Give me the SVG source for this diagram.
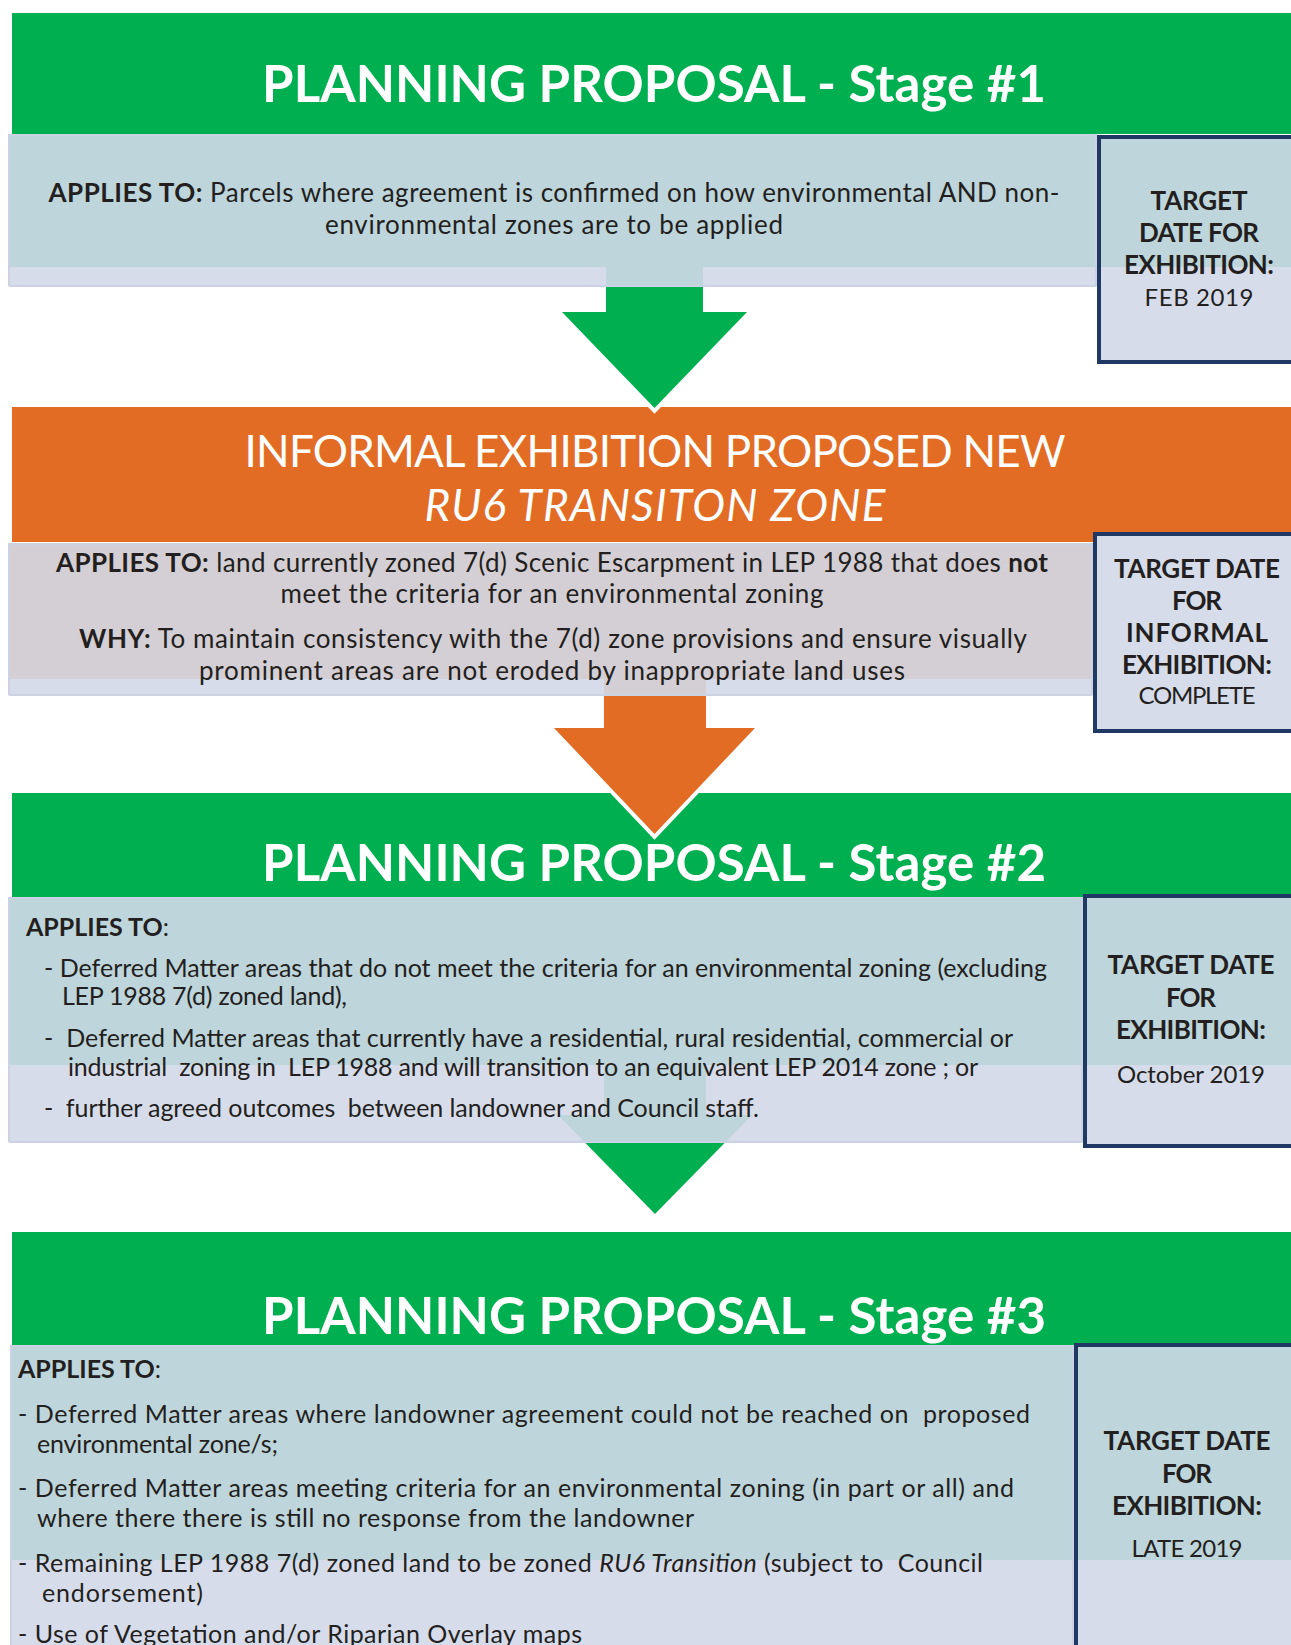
<svg xmlns="http://www.w3.org/2000/svg" width="1291" height="1645" viewBox="0 0 1291 1645">
<style>
text{font-family:Lato,"Open Sans","Liberation Sans",sans-serif;fill:#231f20}
.title{font-size:51px;font-weight:bold;fill:#fff;text-anchor:middle}
.otitle{font-size:44px;fill:#fff;text-anchor:middle}
.body{font-size:25px}
.big{font-size:26px}
.c{text-anchor:middle}
.bold{font-weight:bold}
.date{font-size:26px;font-weight:bold;text-anchor:middle}
.dval{font-size:24px;text-anchor:middle}
.green{fill:#00b050}
.orange{fill:#e36c25}
.lav{fill:#d6dce9}
.teal{fill:#bdd5db}
.gp{fill:#d4cfd4}
.boxedge{fill:none;stroke:#cbd3e2;stroke-width:2}
.frame{fill:none;stroke:#1f3864;stroke-width:4}
.halo{fill:none;stroke:#fff;stroke-width:8;stroke-linejoin:miter}
</style>

<g id="stage1">
<rect class="green" x="12" y="13" width="1290" height="121"/>
<text class="title" x="654" y="102" textLength="784">PLANNING PROPOSAL - Stage #1</text>
<rect class="lav" x="8" y="134" width="1089" height="153" rx="2"/>
<rect class="teal" x="8" y="134" width="1089" height="133"/>
<rect class="teal" x="606" y="267" width="97" height="20"/>
<rect class="boxedge" x="9" y="135" width="1087" height="151" rx="2"/>
<text class="body big c" x="554" y="202" textLength="1011"><tspan class="bold">APPLIES TO:</tspan> Parcels where agreement is confirmed on how environmental AND non-</text>
<text class="body big c" x="554" y="234" textLength="458">environmental zones are to be applied</text>
</g>

<g id="date1">
<rect class="lav" x="1099" y="137" width="200" height="225"/>
<rect class="teal" x="1101" y="139" width="196" height="128"/>
<rect class="frame" x="1099" y="137" width="220" height="225"/>
<text class="date" x="1199" y="210" textLength="97">TARGET</text>
<text class="date" x="1199" y="242" textLength="120">DATE FOR</text>
<text class="date" x="1199" y="274" textLength="150">EXHIBITION:</text>
<text class="dval" x="1199" y="306" textLength="109">FEB 2019</text>
</g>

<g id="informal">
<rect class="orange" x="12" y="407" width="1290" height="135"/>
<text class="otitle" x="655" y="467" textLength="821">INFORMAL EXHIBITION PROPOSED NEW</text>
<text class="otitle" x="655" y="521" font-style="italic" textLength="461">RU6 TRANSITON ZONE</text>
<rect class="lav" x="8" y="543" width="1085" height="153" rx="2"/>
<rect class="gp" x="8" y="543" width="1085" height="136"/>
<rect class="gp" x="604" y="679" width="102" height="17"/>
<rect class="boxedge" x="9" y="544" width="1083" height="151" rx="2"/>
<text class="body big c" x="552" y="572" textLength="992"><tspan class="bold">APPLIES TO:</tspan> land currently zoned 7(d) Scenic Escarpment in LEP 1988 that does <tspan class="bold">not</tspan></text>
<text class="body big c" x="552" y="603" textLength="543">meet the criteria for an environmental zoning</text>
<text class="body big c" x="553" y="648" textLength="948"><tspan class="bold">WHY:</tspan> To maintain consistency with the 7(d) zone provisions and ensure visually</text>
<text class="body big c" x="552" y="680" textLength="706">prominent areas are not eroded by inappropriate land uses</text>
</g>

<g id="date2">
<rect class="lav" x="1095" y="534" width="220" height="197"/>
<rect class="frame" x="1095" y="534" width="220" height="197"/>
<text class="date" x="1197" y="578" textLength="166">TARGET DATE</text>
<text class="date" x="1197" y="610" textLength="50">FOR</text>
<text class="date" x="1197" y="642" textLength="142">INFORMAL</text>
<text class="date" x="1197" y="674" textLength="150">EXHIBITION:</text>
<text class="dval" x="1197" y="704" textLength="117">COMPLETE</text>
</g>

<g id="stage2">
<rect class="green" x="12" y="793" width="1290" height="104"/>
<text class="title" x="654" y="881" textLength="784">PLANNING PROPOSAL - Stage #2</text>
<rect class="lav" x="8" y="897" width="1075" height="246" rx="2"/>
<rect class="teal" x="8" y="897" width="1075" height="168"/>
<polygon class="teal" points="604,1065 706,1065 706,1115 752,1115 724.6,1143 585.4,1143 558,1115 604,1115"/>
<rect class="boxedge" x="9" y="898" width="1073" height="244" rx="2"/>
<text class="body bold" x="26" y="936">APPLIES TO<tspan font-weight="normal">:</tspan></text>
<text class="body" x="44" y="977" textLength="1003">- Deferred Matter areas that do not meet the criteria for an environmental zoning (excluding</text>
<text class="body" x="62" y="1005" textLength="285">LEP 1988 7(d) zoned land),</text>
<text class="body" x="44" y="1047" textLength="969" xml:space="preserve">-  Deferred Matter areas that currently have a residential, rural residential, commercial or</text>
<text class="body" x="68" y="1076" textLength="910" xml:space="preserve">industrial  zoning in  LEP 1988 and will transition to an equivalent LEP 2014 zone ; or</text>
<text class="body" x="44" y="1117" textLength="715" xml:space="preserve">-  further agreed outcomes  between landowner and Council staff.</text>
</g>

<g id="date3">
<rect class="lav" x="1085" y="896" width="220" height="250"/>
<rect class="teal" x="1087" y="898" width="216" height="167"/>
<rect class="frame" x="1085" y="896" width="220" height="250"/>
<text class="date" x="1191" y="974" textLength="167">TARGET DATE</text>
<text class="date" x="1191" y="1007" textLength="50">FOR</text>
<text class="date" x="1191" y="1039" textLength="150">EXHIBITION:</text>
<text class="dval" x="1191" y="1083" textLength="148">October 2019</text>
</g>

<g id="stage3">
<rect class="green" x="12" y="1232" width="1290" height="113"/>
<text class="title" x="654" y="1334" textLength="784">PLANNING PROPOSAL - Stage #3</text>
<rect class="lav" x="10" y="1345" width="1064" height="320"/>
<rect class="teal" x="10" y="1345" width="1064" height="215"/>
<rect class="boxedge" x="11" y="1346" width="1062" height="320"/>
<text class="body bold" x="18" y="1378">APPLIES TO<tspan font-weight="normal">:</tspan></text>
<text class="body" x="18" y="1423" textLength="1012" xml:space="preserve">- Deferred Matter areas where landowner agreement could not be reached on  proposed</text>
<text class="body" x="37" y="1453" textLength="241">environmental zone/s;</text>
<text class="body" x="18" y="1497" textLength="996">- Deferred Matter areas meeting criteria for an environmental zoning (in part or all) and</text>
<text class="body" x="37" y="1527" textLength="657">where there there is still no response from the landowner</text>
<text class="body" x="18" y="1572" textLength="965" xml:space="preserve">- Remaining LEP 1988 7(d) zoned land to be zoned <tspan font-style="italic">RU6 Transition</tspan> (subject to  Council</text>
<text class="body" x="42" y="1602" textLength="161">endorsement)</text>
<text class="body" x="18" y="1643" textLength="564">- Use of Vegetation and/or Riparian Overlay maps</text>
</g>

<g id="date4">
<rect class="lav" x="1076" y="1345" width="230" height="320"/>
<rect class="teal" x="1078" y="1347" width="226" height="213"/>
<rect class="frame" x="1076" y="1345" width="230" height="320"/>
<text class="date" x="1187" y="1450" textLength="167">TARGET DATE</text>
<text class="date" x="1187" y="1483" textLength="50">FOR</text>
<text class="date" x="1187" y="1515" textLength="150">EXHIBITION:</text>
<text class="dval" x="1187" y="1557" textLength="111">LATE 2019</text>
</g>

<g id="connectors">
<path class="halo" d="M562,312 L654.5,408 L747,312"/>
<polygon class="green" points="606,287 703,287 703,312 747,312 654.5,408 562,312 606,312"/>
<path class="halo" d="M554,728 L654.5,834 L755,728"/>
<polygon class="orange" points="604,696 706,696 706,728 755,728 654.5,834 554,728 604,728"/>
<polygon class="green" points="585.4,1143 724.6,1143 655,1214"/>
</g>
</svg>
